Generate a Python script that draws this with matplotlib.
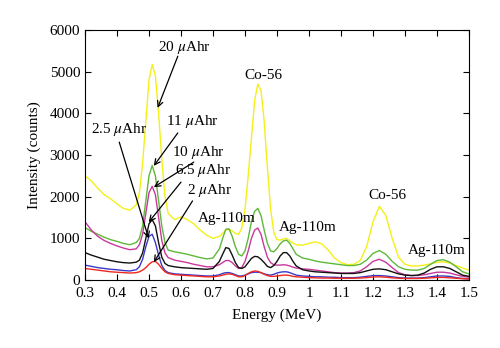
import numpy as np
import matplotlib
matplotlib.use('Agg')
import matplotlib.pyplot as plt

plt.rcParams['font.family'] = ['Liberation Serif', 'DejaVu Serif']
plt.rcParams['mathtext.fontset'] = 'stix'

energy = [0.30, 0.32, 0.34, 0.36, 0.38, 0.40, 0.42, 0.44, 0.46,
          0.47, 0.48, 0.49, 0.50, 0.51, 0.52, 0.53, 0.54, 0.55, 0.56,
          0.58, 0.60, 0.62, 0.64, 0.66, 0.68, 0.70, 0.72,
          0.73, 0.74, 0.75, 0.76, 0.77, 0.78, 0.79, 0.80, 0.81, 0.82,
          0.83, 0.84, 0.85, 0.86, 0.87, 0.88, 0.89, 0.90, 0.91, 0.92,
          0.93, 0.94, 0.95, 0.96,
          0.98, 1.00, 1.02, 1.04, 1.06, 1.08, 1.10, 1.12, 1.14, 1.16,
          1.18, 1.20, 1.22, 1.24, 1.26, 1.28, 1.30, 1.32, 1.34, 1.36,
          1.38, 1.40, 1.42, 1.44, 1.46, 1.48, 1.50]

uah20 = [2500, 2380, 2200, 2050, 1950, 1830, 1720, 1680, 1800,
         2100, 2800, 3800, 4800, 5170, 4900, 4000, 2900, 2000, 1600,
         1450, 1520, 1450, 1350, 1200, 1080, 1000, 1050,
         1120, 1200, 1220, 1180, 1120, 1100, 1250, 1700, 2500, 3400,
         4300, 4700, 4550, 3800, 2700, 1700, 1150, 970, 960, 990,
         1000, 940, 890, 850,
         840, 880, 920, 870, 720, 530, 420, 370, 380, 470,
         800, 1400, 1770, 1550, 1000, 550, 380, 340, 340, 360,
         390, 430, 440, 410, 350, 290, 240]

uah11 = [1260, 1170, 1100, 1030, 970, 930, 880, 850, 900,
         1000, 1300, 1900, 2500, 2750, 2500, 1900, 1300, 900, 720,
         680, 650, 620, 580, 540, 510, 530, 750,
         1000, 1220, 1230, 1050, 800, 620, 580, 700, 1000, 1400,
         1650, 1720, 1550, 1200, 880, 700, 680, 760, 870, 940,
         960, 880, 750, 620,
         530, 500, 460, 430, 410, 390, 370, 350, 350, 380,
         480, 640, 710, 620, 450, 320, 260, 240, 240, 280,
         380, 470, 490, 430, 320, 200, 150]

uah10 = [1400, 1200, 1050, 950, 880, 820, 770, 730, 750,
         850, 1100, 1600, 2100, 2250, 2050, 1500, 950, 650, 540,
         480, 450, 420, 380, 350, 320, 320, 370,
         420, 470, 470, 420, 340, 280, 300, 450, 700, 1000,
         1200, 1250, 1100, 800, 550, 420, 370, 360, 360, 370,
         360, 340, 310, 290,
         270, 260, 240, 220, 200, 180, 170, 170, 180, 220,
         320, 450, 500, 430, 300, 180, 130, 110, 110, 130,
         160, 190, 190, 170, 130, 90, 70]

uah6_5 = [660, 600, 550, 500, 470, 440, 420, 410, 430,
          480, 650, 1000, 1350, 1450, 1300, 900, 550, 400, 350,
          320, 300, 290, 280, 270, 260, 280, 450,
          620, 780, 760, 600, 420, 300, 280, 320, 420, 520,
          570, 560, 500, 420, 330, 300, 350, 450, 580, 660,
          660, 580, 450, 340,
          250, 220, 200, 190, 180, 170, 160, 160, 160, 180,
          220, 260, 270, 250, 200, 150, 120, 110, 120, 170,
          260, 320, 320, 280, 200, 120, 90]

uah2_5 = [360, 330, 300, 280, 260, 250, 230, 220, 250,
          320, 500, 800, 1050, 1100, 900, 600, 350, 230, 180,
          150, 140, 130, 120, 110, 100, 100, 130,
          160, 180, 180, 160, 130, 100, 100, 120, 150, 180,
          190, 190, 180, 150, 130, 120, 140, 170, 190, 200,
          200, 180, 150, 120,
          100, 90, 80, 80, 70, 70, 60, 60, 60, 70,
          90, 110, 110, 100, 80, 60, 50, 50, 50, 60,
          80, 100, 100, 90, 60, 40, 30]

uah2 = [280, 260, 240, 220, 200, 190, 180, 170, 180,
        200, 240, 300, 380, 440, 450, 380, 280, 200, 160,
        130, 120, 110, 100, 90, 80, 80, 100,
        120, 140, 150, 140, 110, 80, 80, 110, 160, 200,
        220, 210, 180, 140, 110, 90, 90, 100, 110, 120,
        120, 110, 90, 80,
        70, 60, 55, 50, 50, 45, 45, 45, 45, 50,
        60, 75, 80, 70, 55, 45, 40, 40, 40, 45,
        55, 65, 65, 55, 45, 35, 30]

series = [(uah20, '#f4f018'), (uah11, '#5fb83a'), (uah10, '#c8389c'),
          (uah6_5, '#111111'), (uah2_5, '#3a3ac8'), (uah2, '#f0281e')]

fig = plt.figure(figsize=(5.0, 3.48), dpi=100)
ax = fig.add_axes([0.17, 0.195, 0.768, 0.719])

for vals, col in series:
    ax.plot(energy, vals, color=col, lw=1.0)

ax.set_xlim(0.3, 1.5)
ax.set_ylim(0, 6000)
ax.set_xticks(np.arange(0.3, 1.51, 0.1))
ax.set_xticklabels(['0.3', '0.4', '0.5', '0.6', '0.7', '0.8', '0.9', '1',
                    '1.1', '1.2', '1.3', '1.4', '1.5'])
ax.set_yticks(range(0, 6001, 1000))
ax.tick_params(direction='in', top=True, right=True, labelsize=11,
               length=4, width=0.8)
ax.tick_params(axis='x', pad=5)
ax.set_xlabel('Energy (MeV)', fontsize=11, labelpad=6)
ax.set_ylabel('Intensity (counts)', fontsize=11, labelpad=6)

arrow = dict(arrowstyle='->', color='black', lw=0.9, shrinkA=0, shrinkB=0)
fs = 11
ax.text(0.611, 5570, r'20 $\mu$Ahr', fontsize=fs, ha='center', va='center')
ax.annotate('', xy=(0.527, 4130), xytext=(0.59, 5370), arrowprops=arrow)
ax.text(0.636, 3800, r'11 $\mu$Ahr', fontsize=fs, ha='center', va='center')
ax.annotate('', xy=(0.515, 2740), xytext=(0.59, 3530), arrowprops=arrow)
ax.text(0.655, 3070, r'10 $\mu$Ahr', fontsize=fs, ha='center', va='center')
ax.annotate('', xy=(0.515, 2230), xytext=(0.64, 2830), arrowprops=arrow)
ax.text(0.668, 2640, r'6.5 $\mu$Ahr', fontsize=fs, ha='center', va='center')
ax.annotate('', xy=(0.499, 1390), xytext=(0.60, 2350), arrowprops=arrow)
ax.text(0.69, 2140, r'2 $\mu$Ahr', fontsize=fs, ha='center', va='center')
ax.annotate('', xy=(0.515, 430), xytext=(0.636, 1900), arrowprops=arrow)
ax.text(0.407, 3620, r'2.5 $\mu$Ahr', fontsize=fs, ha='center', va='center')
ax.annotate('', xy=(0.499, 1000), xytext=(0.407, 3310), arrowprops=arrow)

ax.text(0.858, 4900, 'Co-56', fontsize=fs, ha='center', va='center')
ax.text(0.742, 1480, 'Ag-110m', fontsize=fs, ha='center', va='center')
ax.text(0.995, 1270, 'Ag-110m', fontsize=fs, ha='center', va='center')
ax.text(1.244, 2040, 'Co-56', fontsize=fs, ha='center', va='center')
ax.text(1.40, 720, 'Ag-110m', fontsize=fs, ha='center', va='center')

fig.savefig('out.png', dpi=100)
